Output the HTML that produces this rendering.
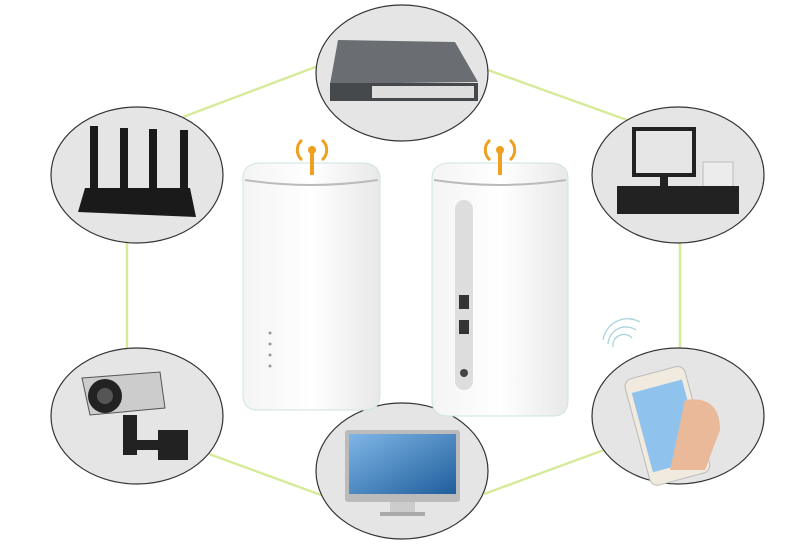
<!DOCTYPE html>
<html><head><style>body{margin:0;background:#fff}svg{display:block}</style></head><body>
<svg width="802" height="552" viewBox="0 0 802 552" xmlns="http://www.w3.org/2000/svg">
<defs>
<linearGradient id="box" x1="0" x2="1"><stop offset="0" stop-color="#f4f4f4"/><stop offset="0.5" stop-color="#fff"/><stop offset="1" stop-color="#e8e8e8"/></linearGradient>
<linearGradient id="scr" x1="0" y1="0" x2="1" y2="1"><stop offset="0" stop-color="#7fb6e6"/><stop offset="1" stop-color="#1f5d9c"/></linearGradient>
</defs>
<g stroke="#d6eb9a" stroke-width="2.5" fill="none">
<line x1="183" y1="117" x2="318" y2="66"/>
<line x1="488" y1="70" x2="627" y2="120"/>
<line x1="127" y1="240" x2="127" y2="350"/>
<line x1="680" y1="240" x2="680" y2="350"/>
<line x1="209" y1="454" x2="321" y2="495"/>
<line x1="484" y1="494" x2="604" y2="450"/>
</g>
<g fill="#e5e5e5" stroke="#333" stroke-width="1.2">
<ellipse cx="402" cy="73" rx="86" ry="68"/>
<ellipse cx="137" cy="175" rx="86" ry="68"/>
<ellipse cx="678" cy="175" rx="86" ry="68"/>
<ellipse cx="137" cy="416" rx="86" ry="68"/>
<ellipse cx="678" cy="416" rx="86" ry="68"/>
<ellipse cx="402" cy="471" rx="86" ry="68"/>
</g>
<!-- switch -->
<path d="M338 40 L455 42 L478 82 L330 84 Z" fill="#6a6e72"/>
<rect x="330" y="83" width="148" height="18" fill="#45494c"/>
<rect x="372" y="86" width="102" height="12" fill="#ddd"/>
<!-- router -->
<g fill="#1a1a1a"><rect x="90" y="126" width="8" height="62"/><rect x="120" y="128" width="8" height="60"/><rect x="149" y="129" width="8" height="60"/><rect x="180" y="130" width="8" height="60"/>
<path d="M85 188 L190 188 L196 217 L78 212 Z"/></g>
<!-- POS -->
<rect x="632" y="127" width="64" height="50" fill="#222"/><rect x="636" y="131" width="56" height="42" fill="#e6e6e6"/>
<rect x="660" y="177" width="8" height="10" fill="#222"/>
<rect x="703" y="162" width="30" height="25" fill="#ececec" stroke="#bbb"/>
<rect x="617" y="186" width="122" height="28" fill="#222"/>
<!-- camera -->
<path d="M82 378 L160 372 L165 408 L90 415 Z" fill="#ccc" stroke="#555"/>
<circle cx="105" cy="396" r="17" fill="#222"/><circle cx="105" cy="396" r="8" fill="#555"/>
<rect x="123" y="415" width="14" height="40" fill="#222"/><rect x="123" y="440" width="40" height="10" fill="#222"/><rect x="158" y="430" width="30" height="30" fill="#222"/>
<!-- monitor -->
<rect x="345" y="430" width="115" height="72" rx="3" fill="#bbb"/>
<rect x="349" y="434" width="107" height="60" fill="url(#scr)"/>
<rect x="390" y="502" width="25" height="12" fill="#ccc"/><rect x="380" y="512" width="45" height="4" fill="#aaa"/>
<!-- phone -->
<g transform="rotate(-15 670 420)"><rect x="635" y="370" width="62" height="110" rx="8" fill="#f1eadf" stroke="#bbb"/><rect x="640" y="384" width="52" height="82" fill="#8fc3ee"/></g>
<path d="M685 400 Q720 395 720 430 L705 470 L670 470 Z" fill="#e9b99a"/>
<g fill="none" stroke="#a9d3dc" stroke-width="1.3"><path d="M603 340 A25 25 0 0 1 640 322"/><path d="M608 344 A18 18 0 0 1 636 330"/><path d="M613 347 A11 11 0 0 1 632 338"/></g>
<!-- left box -->
<path d="M243 178 Q243 165 258 163 L365 163 Q380 165 380 178 L380 395 Q380 410 365 410 L258 410 Q243 410 243 395 Z" fill="url(#box)" stroke="#cfe3e3"/>
<path d="M245 180 Q310 190 378 180" stroke="#bbb" stroke-width="2" fill="none"/>
<g fill="#999"><circle cx="270" cy="333" r="1.5"/><circle cx="270" cy="344" r="1.5"/><circle cx="270" cy="355" r="1.5"/><circle cx="270" cy="366" r="1.5"/></g>
<!-- right box -->
<path d="M432 178 Q432 165 447 163 L553 163 Q568 165 568 178 L568 400 Q568 416 553 416 L447 416 Q432 416 432 400 Z" fill="url(#box)" stroke="#cfe3e3"/>
<path d="M434 180 Q500 190 566 180" stroke="#bbb" stroke-width="2" fill="none"/>
<rect x="455" y="200" width="18" height="190" rx="9" fill="#ddd"/>
<rect x="459" y="295" width="10" height="14" fill="#333"/><rect x="459" y="320" width="10" height="14" fill="#333"/><circle cx="464" cy="373" r="4" fill="#444"/>
<!-- antennas -->
<g fill="none" stroke="#f0a020" stroke-width="3">
<path d="M302 140 A13 13 0 0 0 302 160"/><path d="M322 140 A13 13 0 0 1 322 160"/>
<path d="M490 140 A13 13 0 0 0 490 160"/><path d="M510 140 A13 13 0 0 1 510 160"/></g>
<g fill="#f0a020"><circle cx="312" cy="150" r="4"/><rect x="310" y="150" width="4" height="25"/><circle cx="500" cy="150" r="4"/><rect x="498" y="150" width="4" height="25"/></g>
</svg>
</body></html>
